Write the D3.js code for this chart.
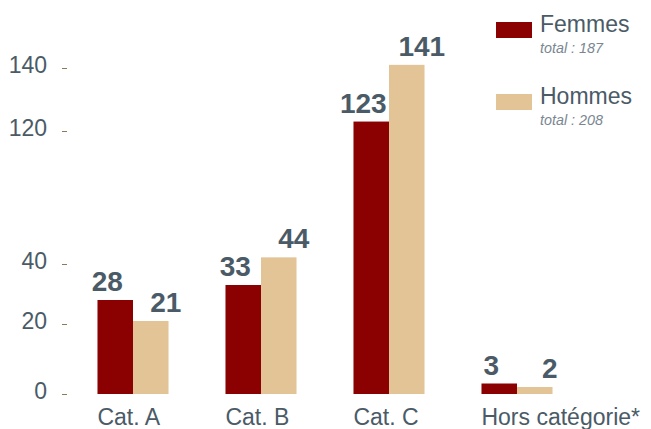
<!DOCTYPE html>
<html>
<head>
<meta charset="utf-8">
<script src="https://cdn.jsdelivr.net/npm/d3@7"></script>
<style>
  html, body { margin: 0; padding: 0; background: #fff; }
  svg { display: block; font-family: "Liberation Sans", Arial, Helvetica, sans-serif; }
</style>
</head>
<body>
<svg id="chart" width="651" height="429"></svg>
<script>
const categories = ["Cat. A", "Cat. B", "Cat. C", "Hors catégorie*"];
const seriesNames = ["Femmes", "Hommes"];
const femmes = [28, 33, 123, 3];
const hommes = [21, 44, 141, 2];
const totals = [187, 208];
const yTicks = [0, 20, 40, 120, 140];

const colors = { Femmes: "#8b0000", Hommes: "#e2c496" };
const textColor = "#4a5b67";

const svg = d3.select("#chart");

// broken (piecewise) y scale
const y = d3.scaleLinear()
  .domain([0, 20, 40, 120, 140])
  .range([394, 324, 264, 131, 68]);

const x = d3.scaleBand()
  .domain(categories)
  .range([69, 581])
  .paddingInner(0.445)
  .paddingOuter(0.2225);

const xs = d3.scaleBand()
  .domain(seriesNames)
  .range([0, x.bandwidth()])
  .padding(0);

const rows = categories.map((c, i) => ({ cat: c, Femmes: femmes[i], Hommes: hommes[i] }));

// y axis
const yAxis = svg.append("g")
  .attr("transform", "translate(67,0)")
  .call(d3.axisLeft(y).tickValues(yTicks).tickSize(5).tickPadding(15).tickFormat(d3.format("d")));
yAxis.select(".domain").remove();
yAxis.selectAll(".tick line").attr("stroke", "#8c7b52").attr("stroke-width", 1);
yAxis.selectAll(".tick text")
  .attr("fill", textColor)
  .attr("font-size", 23)
  .attr("dy", "0.2em")
  .style("font-family", "'Liberation Sans', Arial, sans-serif");

// bars
const groups = svg.append("g").selectAll("g")
  .data(rows).join("g")
  .attr("transform", d => `translate(${x(d.cat)},0)`);

groups.selectAll("rect")
  .data(d => seriesNames.map(s => ({ s, v: d[s] })))
  .join("rect")
  .attr("x", d => xs(d.s))
  .attr("width", xs.bandwidth())
  .attr("y", d => y(d.v))
  .attr("height", d => y(0) - y(d.v))
  .attr("fill", d => colors[d.s]);

groups.selectAll("text.val")
  .data(d => seriesNames.map(s => ({ s, v: d[s] })))
  .join("text")
  .attr("class", "val")
  .attr("x", d => xs(d.s) + xs.bandwidth() / 2 + (d.s === "Femmes" ? -8 : 15))
  .attr("y", d => y(d.v) - 9)
  .attr("text-anchor", "middle")
  .attr("font-size", 28)
  .attr("font-weight", "bold")
  .attr("fill", textColor)
  .text(d => d.v);

// x labels
svg.append("g").selectAll("text")
  .data(categories).join("text")
  .attr("x", d => x(d))
  .attr("y", 425)
  .attr("font-size", 23)
  .attr("fill", textColor)
  .text(d => d);

// legend
const legend = svg.append("g").selectAll("g")
  .data(seriesNames).join("g")
  .attr("transform", (d, i) => `translate(496,${22 + i * 72})`);
legend.append("rect")
  .attr("width", 36).attr("height", 16)
  .attr("fill", d => colors[d]);
legend.append("text")
  .attr("x", 44).attr("y", 10)
  .attr("font-size", 23)
  .attr("fill", textColor)
  .text(d => d);
legend.append("text")
  .attr("x", 44).attr("y", 31)
  .attr("font-size", 15)
  .attr("font-style", "italic")
  .attr("fill", "#7a8792")
  .attr("textLength", 63)
  .attr("lengthAdjust", "spacingAndGlyphs")
  .text((d, i) => `total : ${totals[i]}`);
</script>
</body>
</html>
